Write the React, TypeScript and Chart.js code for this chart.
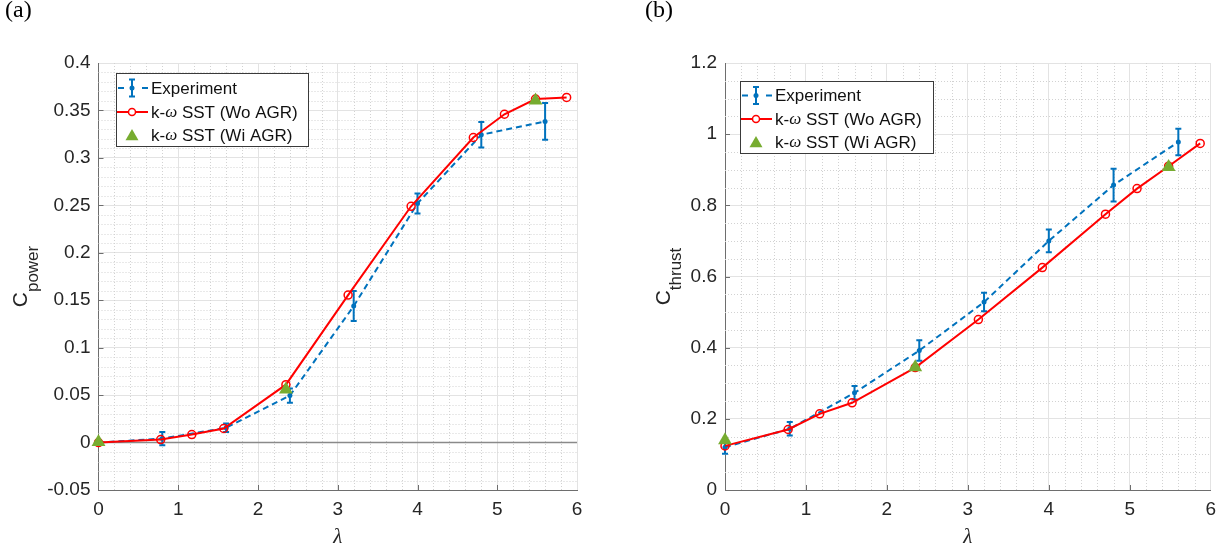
import React, { useEffect, useRef } from "react";
import { Chart, registerables } from "chart.js";

Chart.register(...registerables);

// ---------------- data ----------------
const LAMBDA_EXP = [0, 0.8, 1.6, 2.4, 3.2, 4.0, 4.8, 5.6];
const LAMBDA_SIM = [0, 0.78, 1.17, 1.57, 2.35, 3.13, 3.92, 4.7, 5.09, 5.48, 5.87];
const LAMBDA_AGR = [0, 2.35, 5.48];

const CP_EXP = [0, 0.0042, 0.0156, 0.0495, 0.1438, 0.252, 0.3244, 0.3384];
const CP_EXP_ERR = [0, 0.007, 0.0045, 0.0075, 0.0158, 0.0105, 0.0134, 0.0194];
const CP_SIM = [0, 0.0032, 0.0084, 0.0148, 0.061, 0.1554, 0.249, 0.3215, 0.346, 0.362, 0.3637];
const CP_AGR = [0.0005, 0.056, 0.3606];

const CT_EXP = [0.12, 0.172, 0.273, 0.392, 0.528, 0.7, 0.857, 0.978];
const CT_EXP_ERR = [0.018, 0.019, 0.019, 0.029, 0.026, 0.032, 0.046, 0.0375];
const CT_SIM = [0.124, 0.17, 0.214, 0.245, 0.344, 0.479, 0.625, 0.775, 0.847, 0.91, 0.974];
const CT_AGR = [0.14, 0.345, 0.908];

const X_TICKS = [0, 1, 2, 3, 4, 5, 6];
const X_TICK_LABELS = ["0", "1", "2", "3", "4", "5", "6"];
const CP_TICKS = [-0.05, 0, 0.05, 0.1, 0.15, 0.2, 0.25, 0.3, 0.35, 0.4];
const CP_TICK_LABELS = ["-0.05", "0", "0.05", "0.1", "0.15", "0.2", "0.25", "0.3", "0.35", "0.4"];
const CT_TICKS = [0, 0.2, 0.4, 0.6, 0.8, 1, 1.2];
const CT_TICK_LABELS = ["0", "0.2", "0.4", "0.6", "0.8", "1", "1.2"];

const LEGEND_LABELS = ["Experiment", "k-\u03c9 SST (Wo AGR)", "k-\u03c9 SST (Wi AGR)"];
const X_TITLE = "\u03bb";
const PANEL_LABELS = ["(a)", "(b)"];
const Y_TITLES_MAIN = ["C", "C"];
const Y_TITLES_SUB = ["power", "thrust"];

// ---------------- styles ----------------
const SANS = '"Liberation Sans", Arial, Helvetica, sans-serif';
const SERIF = '"Liberation Serif", "Times New Roman", serif';
const BLUE = "#0072BD";
const RED = "#FF0000";
const GREEN = "#77AC30";
const TEXT = "#262626";
const AXIS = "#6e6e6e";
const GRID = "#e3e3e3";
const MINOR = "#d2d2d2";
const W = 612;
const H = 553;
const PLOT_TOP = 63;
const PLOT_BOTTOM = 490;
const TICK_FONT = 19;

type LegendBox = { x: number; y: number; w: number; h: number; rows: number[] };
type PanelCfg = {
  idx: number;
  panelLabelX: number;
  yTitleX: number;
  yTicks: number[];
  yTickLabels: string[];
  yMin: number;
  yMax: number;
  yMinor: number;
  exp: number[];
  expErr: number[];
  sim: number[];
  agr: number[];
  zeroLine: boolean;
  axisLeft: number;
  padRight: number;
  legend: LegendBox;
};

const PANELS: PanelCfg[] = [
  {
    idx: 0,
    panelLabelX: 5,
    yTitleX: 27,
    yTicks: CP_TICKS,
    yTickLabels: CP_TICK_LABELS,
    yMin: -0.05,
    yMax: 0.4,
    yMinor: 0.01,
    exp: CP_EXP,
    expErr: CP_EXP_ERR,
    sim: CP_SIM,
    agr: CP_AGR,
    zeroLine: true,
    axisLeft: 98.5,
    padRight: 35,
    legend: { x: 116, y: 73, w: 192, h: 73, rows: [88, 112, 135] },
  },
  {
    idx: 1,
    panelLabelX: 33,
    yTitleX: 58,
    yTicks: CT_TICKS,
    yTickLabels: CT_TICK_LABELS,
    yMin: 0,
    yMax: 1.2,
    yMinor: 0.05,
    exp: CT_EXP,
    expErr: CT_EXP_ERR,
    sim: CT_SIM,
    agr: CT_AGR,
    zeroLine: false,
    axisLeft: 113,
    padRight: 13,
    legend: { x: 128, y: 81, w: 193, h: 72, rows: [95.5, 119, 142] },
  },
];

const isMultiple = (v: number, step: number) => Math.abs(v / step - Math.round(v / step)) < 1e-6;
const al = (p: number) => Math.round(p) + 0.5;

function drawTriangle(ctx: CanvasRenderingContext2D, x: number, y: number, r: number) {
  ctx.beginPath();
  for (let k = 0; k < 3; k++) {
    const ang = (k * 2 * Math.PI) / 3;
    const px = x + Math.sin(ang) * r;
    const py = y - Math.cos(ang) * r;
    if (k === 0) ctx.moveTo(px, py);
    else ctx.lineTo(px, py);
  }
  ctx.closePath();
  ctx.fill();
}

function drawLabel(ctx: CanvasRenderingContext2D, text: string, x: number, y: number, size: number) {
  const parts = text.split("\u03c9");
  let cx = x;
  parts.forEach((p, i) => {
    ctx.font = `${size}px ${SANS}`;
    ctx.fillText(p, cx, y);
    cx += ctx.measureText(p).width;
    if (i < parts.length - 1) {
      ctx.font = `italic ${size}px ${SERIF}`;
      ctx.fillText("\u03c9", cx, y);
      cx += ctx.measureText("\u03c9").width;
    }
  });
}

function makePlugin(cfg: PanelCfg) {
  return {
    id: "matlabStyle" + cfg.idx,
    beforeDatasetsDraw(chart: any) {
      const { ctx, chartArea: a } = chart;
      const x = chart.scales.x;
      const y = chart.scales.y;
      ctx.save();
      // minor grid
      ctx.strokeStyle = MINOR;
      ctx.lineWidth = 1;
      ctx.setLineDash([1, 2]);
      ctx.beginPath();
      for (let i = 1; ; i++) {
        const v = x.min + i * 0.2;
        if (v >= x.max - 1e-9) break;
        if (isMultiple(v, 1)) continue;
        const px = al(x.getPixelForValue(v));
        ctx.moveTo(px, a.top);
        ctx.lineTo(px, a.bottom);
      }
      const yStep = cfg.yTicks[1] - cfg.yTicks[0];
      for (let i = 1; ; i++) {
        const v = cfg.yMin + i * cfg.yMinor;
        if (v >= cfg.yMax - 1e-9) break;
        if (isMultiple(v - cfg.yMin, yStep)) continue;
        const py = al(y.getPixelForValue(v));
        ctx.moveTo(a.left, py);
        ctx.lineTo(a.right, py);
      }
      ctx.stroke();
      ctx.setLineDash([]);
      // inward tick marks
      ctx.strokeStyle = AXIS;
      ctx.beginPath();
      X_TICKS.forEach((v) => {
        if (v === x.min || v === x.max) return;
        const px = al(x.getPixelForValue(v));
        ctx.moveTo(px, a.bottom);
        ctx.lineTo(px, a.bottom - 5);
      });
      cfg.yTicks.forEach((v) => {
        if (v === cfg.yMin || v === cfg.yMax) return;
        const py = al(y.getPixelForValue(v));
        ctx.moveTo(a.left, py);
        ctx.lineTo(a.left + 5, py);
      });
      ctx.stroke();
      // zero line
      if (cfg.zeroLine) {
        const py = y.getPixelForValue(0);
        ctx.strokeStyle = "#8a8a8a";
        ctx.lineWidth = 1.5;
        ctx.beginPath();
        ctx.moveTo(a.left, py);
        ctx.lineTo(a.right, py);
        ctx.stroke();
      }
      ctx.restore();
    },
    afterDatasetDraw(chart: any, args: any) {
      if (args.index !== 0) return;
      const { ctx } = chart;
      const x = chart.scales.x;
      const y = chart.scales.y;
      ctx.save();
      ctx.strokeStyle = BLUE;
      ctx.lineWidth = 2;
      ctx.setLineDash([]);
      ctx.beginPath();
      LAMBDA_EXP.forEach((lx, i) => {
        const e = cfg.expErr[i];
        if (!e) return;
        const px = x.getPixelForValue(lx);
        const yt = y.getPixelForValue(cfg.exp[i] + e);
        const yb = y.getPixelForValue(cfg.exp[i] - e);
        ctx.moveTo(px, yt);
        ctx.lineTo(px, yb);
        ctx.moveTo(px - 3, yt);
        ctx.lineTo(px + 3, yt);
        ctx.moveTo(px - 3, yb);
        ctx.lineTo(px + 3, yb);
      });
      ctx.stroke();
      ctx.restore();
    },
    afterDraw(chart: any) {
      const { ctx, chartArea: a } = chart;
      ctx.save();
      // legend
      const L = cfg.legend;
      ctx.fillStyle = "#ffffff";
      ctx.fillRect(L.x, L.y, L.w, L.h);
      ctx.strokeStyle = "#3a3a3a";
      ctx.lineWidth = 1;
      ctx.setLineDash([]);
      ctx.strokeRect(L.x + 0.5, L.y + 0.5, L.w, L.h);
      const lx0 = L.x + 2;
      const lx1 = L.x + 32;
      const mx = L.x + 16;
      const tx = L.x + 35;
      // experiment icon
      let ry = L.rows[0];
      ctx.strokeStyle = BLUE;
      ctx.lineWidth = 2;
      ctx.beginPath();
      ctx.moveTo(lx0, ry);
      ctx.lineTo(lx0 + 6, ry);
      ctx.moveTo(lx1 - 6, ry);
      ctx.lineTo(lx1, ry);
      ctx.moveTo(mx, ry - 8.5);
      ctx.lineTo(mx, ry + 8.5);
      ctx.moveTo(mx - 3, ry - 8.5);
      ctx.lineTo(mx + 3, ry - 8.5);
      ctx.moveTo(mx - 3, ry + 8.5);
      ctx.lineTo(mx + 3, ry + 8.5);
      ctx.stroke();
      ctx.fillStyle = BLUE;
      ctx.beginPath();
      ctx.arc(mx, ry, 2.5, 0, Math.PI * 2);
      ctx.fill();
      // sim icon
      ry = L.rows[1];
      ctx.strokeStyle = RED;
      ctx.lineWidth = 2;
      ctx.beginPath();
      ctx.moveTo(lx0 - 1, ry);
      ctx.lineTo(lx1, ry);
      ctx.stroke();
      ctx.fillStyle = "#ffffff";
      ctx.lineWidth = 1.5;
      ctx.beginPath();
      ctx.arc(mx, ry, 3.5, 0, Math.PI * 2);
      ctx.fill();
      ctx.stroke();
      // agr icon
      ry = L.rows[2];
      ctx.fillStyle = GREEN;
      drawTriangle(ctx, mx, ry + 1.5, 7.5);
      // labels
      ctx.fillStyle = "#111111";
      ctx.textAlign = "left";
      ctx.textBaseline = "middle";
      LEGEND_LABELS.forEach((t, i) => drawLabel(ctx, t, tx, L.rows[i] + 1, 17));

      // x title
      ctx.fillStyle = TEXT;
      ctx.textBaseline = "alphabetic";
      ctx.textAlign = "center";
      ctx.font = `italic 21px ${SERIF}`;
      ctx.fillText(X_TITLE, (a.left + a.right) / 2, 543);

      // panel label
      ctx.fillStyle = "#000000";
      ctx.textAlign = "left";
      ctx.font = `24px ${SERIF}`;
      ctx.fillText(PANEL_LABELS[cfg.idx], cfg.panelLabelX, 17);

      // y title with subscript
      ctx.fillStyle = TEXT;
      ctx.translate(cfg.yTitleX, (a.top + a.bottom) / 2);
      ctx.rotate(-Math.PI / 2);
      ctx.font = `21px ${SANS}`;
      const main = Y_TITLES_MAIN[cfg.idx];
      const sub = Y_TITLES_SUB[cfg.idx];
      const wC = ctx.measureText(main).width;
      ctx.font = `17px ${SANS}`;
      const wS = ctx.measureText(sub).width;
      const start = -(wC + wS) / 2;
      ctx.font = `21px ${SANS}`;
      ctx.fillText(main, start, 0);
      ctx.font = `17px ${SANS}`;
      ctx.fillText(sub, start + wC, 11);
      ctx.restore();
    },
  };
}

function Panel({ cfg }: { cfg: PanelCfg }) {
  const ref = useRef<HTMLCanvasElement | null>(null);
  useEffect(() => {
    if (!ref.current) return;
    const chart = new Chart(ref.current, {
      type: "scatter",
      data: {
        datasets: [
          {
            label: LEGEND_LABELS[0],
            data: LAMBDA_EXP.map((x, i) => ({ x, y: cfg.exp[i] })),
            showLine: true,
            borderColor: BLUE,
            backgroundColor: BLUE,
            borderWidth: 2,
            borderDash: [6, 4],
            pointRadius: 2.5,
            pointBackgroundColor: BLUE,
            pointBorderColor: BLUE,
            pointBorderWidth: 0,
            order: 2,
            clip: false,
          },
          {
            label: LEGEND_LABELS[1],
            data: LAMBDA_SIM.map((x, i) => ({ x, y: cfg.sim[i] })),
            showLine: true,
            borderColor: RED,
            backgroundColor: RED,
            borderWidth: 2,
            pointStyle: "circle",
            pointRadius: 4,
            pointBackgroundColor: "rgba(255,255,255,0)",
            pointBorderColor: RED,
            pointBorderWidth: 1.5,
            order: 1,
            clip: false,
          },
          {
            label: LEGEND_LABELS[2],
            data: LAMBDA_AGR.map((x, i) => ({ x, y: cfg.agr[i] })),
            showLine: false,
            pointStyle: "triangle",
            pointRadius: 8,
            pointBackgroundColor: GREEN,
            pointBorderColor: GREEN,
            pointBorderWidth: 0,
            backgroundColor: GREEN,
            borderColor: GREEN,
            order: 0,
            clip: false,
          },
        ],
      } as any,
      options: {
        responsive: false,
        maintainAspectRatio: false,
        animation: false,
        devicePixelRatio: 1,
        events: [],
        layout: { padding: { left: 0, top: PLOT_TOP, right: cfg.padRight, bottom: 0 } },
        plugins: {
          legend: { display: false },
          tooltip: { enabled: false },
          title: { display: false },
        },
        scales: {
          x: {
            type: "linear",
            position: "bottom",
            min: 0,
            max: 6,
            afterBuildTicks: (s: any) => {
              s.ticks = X_TICKS.map((v) => ({ value: v }));
            },
            afterFit: (s: any) => {
              s.height = H - PLOT_BOTTOM;
            },
            ticks: {
              autoSkip: false,
              maxRotation: 0,
              padding: 8,
              color: TEXT,
              font: { family: SANS, size: TICK_FONT },
              callback: (_v: any, i: number) => X_TICK_LABELS[i],
            },
            grid: {
              drawTicks: false,
              lineWidth: 1,
              color: (c: any) => (c.tick && c.tick.value === 0 ? "rgba(0,0,0,0)" : GRID),
            },
            border: { display: true, color: AXIS, width: 1 },
            title: { display: false },
          },
          y: {
            type: "linear",
            position: "left",
            min: cfg.yMin,
            max: cfg.yMax,
            afterBuildTicks: (s: any) => {
              s.ticks = cfg.yTicks.map((v) => ({ value: v }));
            },
            afterFit: (s: any) => {
              s.width = cfg.axisLeft;
            },
            ticks: {
              autoSkip: false,
              padding: 8,
              color: TEXT,
              font: { family: SANS, size: TICK_FONT },
              callback: (_v: any, i: number) => cfg.yTickLabels[i],
            },
            grid: {
              drawTicks: false,
              lineWidth: 1,
              color: (c: any) => (c.tick && c.tick.value === cfg.yMin ? "rgba(0,0,0,0)" : GRID),
            },
            border: { display: true, color: AXIS, width: 1 },
            title: { display: false },
          },
        },
      } as any,
      plugins: [makePlugin(cfg)],
    });
    return () => chart.destroy();
  }, [cfg]);
  return (
    <canvas
      ref={ref}
      width={W}
      height={H}
      style={{ position: "absolute", top: 0, left: cfg.idx * W, width: W, height: H, display: "block" }}
    />
  );
}

export default function App() {
  return (
    <div style={{ position: "absolute", left: 0, top: 0, width: 1224, height: 553, background: "#ffffff", overflow: "hidden" }}>
      {PANELS.map((p) => (
        <Panel key={p.idx} cfg={p} />
      ))}
    </div>
  );
}
